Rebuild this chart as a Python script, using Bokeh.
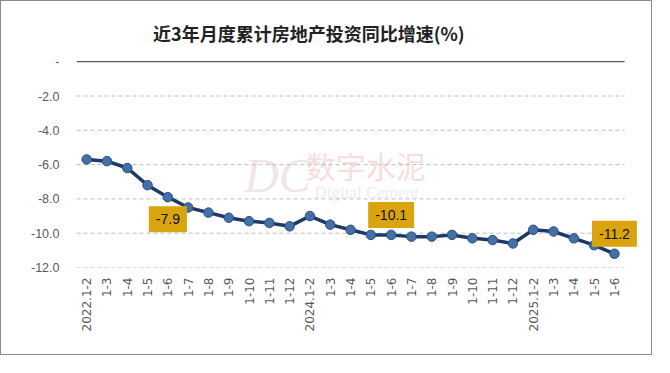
import math
from bokeh.plotting import figure
from bokeh.models import Range1d, FixedTicker, Label, ColumnDataSource
from bokeh.embed import file_html
from bokeh.resources import INLINE

# ---- data ----
periods = ["2022.1-2", "1-3", "1-4", "1-5", "1-6", "1-7", "1-8", "1-9", "1-10", "1-11", "1-12",
           "2024.1-2", "1-3", "1-4", "1-5", "1-6", "1-7", "1-8", "1-9", "1-10", "1-11", "1-12",
           "2025.1-2", "1-3", "1-4", "1-5", "1-6"]
growth = [-5.7, -5.8, -6.2, -7.2, -7.9, -8.5, -8.8, -9.1, -9.3, -9.4, -9.6,
          -9.0, -9.5, -9.8, -10.1, -10.1, -10.2, -10.2, -10.1, -10.3, -10.4, -10.6,
          -9.8, -9.9, -10.3, -10.7, -11.2]
labeled_points = [4, 15, 26]
y_ticks = [0, -2, -4, -6, -8, -10, -12]
y_tick_labels = ["-", "-2.0", "-4.0", "-6.0", "-8.0", "-10.0", "-12.0"]
title_text = "近3年月度累计房地产投资同比增速(%)"

# ---- layout ----
W, H = 652, 355
FL, FR, FT, FB = 75, 3, 8, 89
PX_X, PX_Y = 20.3, 17.15
SX, SY = 654 / 668, 357 / 368      # reference -> own pixel scale
n = len(periods)
x_lo = -0.5
x_hi = x_lo + (W - FL - FR) / PX_X
y_lo = min(y_ticks)
y_hi = y_lo + (H - FT - FB) / PX_Y

def data_xy(ref_x, ref_y):
    sx = ref_x * SX - 1 - FL
    sy = ref_y * SY - 1 - FT
    return x_lo + sx / PX_X, y_hi - sy / PX_Y

p = figure(width=W, height=H, output_backend="svg", toolbar_location=None,
           x_range=Range1d(x_lo, x_hi), y_range=Range1d(y_lo, y_hi),
           min_border_left=FL, min_border_right=FR, min_border_top=FT, min_border_bottom=FB,
           styles={"border": "1px solid #8a8a8a"})
p.outline_line_color = None
p.background_fill_color = "white"
p.border_fill_color = "white"
p.xgrid.grid_line_color = None
p.ygrid.grid_line_color = None

# y axis
p.yaxis.ticker = FixedTicker(ticks=y_ticks)
p.yaxis.major_label_overrides = {t: s for t, s in zip(y_ticks, y_tick_labels)}
p.yaxis.axis_line_color = None
p.yaxis.major_tick_line_color = None
p.yaxis.minor_tick_line_color = None
p.yaxis.major_tick_out = 0
p.yaxis.major_tick_in = 0
p.yaxis.major_label_standoff = 17
p.yaxis.major_label_text_font = "Liberation Sans"
p.yaxis.major_label_text_font_size = "12.5px"
p.yaxis.major_label_text_color = "#595959"

# x axis
p.xaxis.ticker = FixedTicker(ticks=list(range(n)))
p.xaxis.major_label_overrides = {i: s for i, s in enumerate(periods)}
p.xaxis.major_label_orientation = math.pi / 2
p.xaxis.axis_line_color = None
p.xaxis.major_tick_line_color = None
p.xaxis.minor_tick_line_color = None
p.xaxis.major_tick_out = 0
p.xaxis.major_tick_in = 0
p.xaxis.major_label_standoff = 10
p.xaxis.major_label_text_font = "DejaVu Sans"
p.xaxis.major_label_text_font_size = "12px"
p.xaxis.major_label_text_color = "#595959"

# watermarks
wm = [
    ("DC", 283, 180, "48px", "#F1E6E6", "Liberation Serif", "italic"),
    ("数字水泥", 373, 170, "30px", "#F8DDE0", "Noto Sans CJK SC", "normal"),
    ("Digital Cement", 374, 198, "17px", "#EDEDED", "Liberation Serif", "normal"),
    ("数字水泥", 572, 294, "32px", "#F6F6F6", "Noto Sans CJK SC", "normal"),
    ("dcement.com", 565, 338, "30px", "#F5F5F5", "Liberation Sans", "normal"),
]
for txt, rx, ry, fs, col, font, style in wm:
    x, y = data_xy(rx, ry)
    p.add_layout(Label(x=x, y=y, text=txt, text_align="center", text_baseline="middle",
                       text_font_size=fs, text_color=col, text_font=font,
                       text_font_style=style, level="underlay"))

# grid lines (dashed) and zero line (solid), limited to category span
grid_y = [t for t in y_ticks if t != 0]
p.segment(x0=[x_lo] * len(grid_y), x1=[n - 0.5] * len(grid_y), y0=grid_y, y1=grid_y,
          line_color="#BDBDBD", line_dash="4 3", line_width=1)
p.segment(x0=[x_lo], x1=[n - 0.5], y0=[0], y1=[0], line_color="#595959", line_width=1.3)

src = ColumnDataSource(dict(x=list(range(n)), v=growth))
p.line("x", "v", source=src, line_color="#1E3A64", line_width=3.5)
p.scatter("x", "v", source=src, size=9.5, fill_color="#4470A8", line_color="#2C4E80", line_width=1)

# data labels
offsets = {4: -22, 15: 20, 26: 20}
for i in labeled_points:
    p.add_layout(Label(x=i, y=growth[i], text=f"{growth[i]:.1f}", y_offset=offsets[i],
                       text_align="center", text_baseline="middle",
                       text_font="Liberation Sans", text_font_size="14px", text_color="#111111",
                       background_fill_color="#D9A40E", padding=(7, 8)))

# title
tx, ty = data_xy(315, 33)
p.add_layout(Label(x=tx, y=ty, text=title_text, text_align="center", text_baseline="middle",
                   text_font="Noto Sans CJK SC", text_font_style="bold",
                   text_font_size="18px", text_color="#222222"))

open("out.html", "w").write(file_html(p, INLINE))
